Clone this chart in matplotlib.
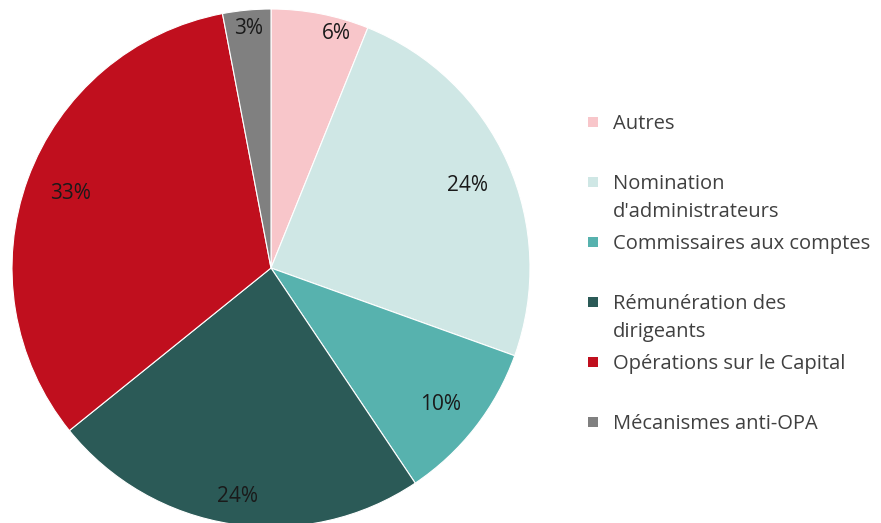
import numpy as np
import matplotlib.pyplot as plt
from matplotlib.patches import Rectangle

categories = ['Autres', "Nomination\nd'administrateurs", 'Commissaires aux comptes',
              'Rémunération des\ndirigeants', 'Opérations sur le Capital', 'Mécanismes anti-OPA']
values = [6.1, 24.4, 10.1, 23.6, 32.8, 3.0]
colors = ['#F8C6CA', '#CFE7E5', '#57B2AE', '#2B5A57', '#C00F1E', '#808080']

# label placement tweaks (radius as fraction, angle offset in degrees)
label_r = [0.94, 0.825, 0.84, 0.89, 0.826, 0.93]
label_da = [-4.6, -1.3, -0.9, 0.4, -0.1, 0.0]

plt.rcParams['font.family'] = ['Open Sans', 'DejaVu Sans']

W, H = 881, 523
fig = plt.figure(figsize=(W / 100, H / 100), dpi=100)
cx, cy, R = 271, 523 - 268, 259
ax = fig.add_axes([(cx - R) / W, (cy - R) / H, 2 * R / W, 2 * R / H])

wedges, _ = ax.pie(values, colors=colors, startangle=90, counterclock=False,
                   wedgeprops=dict(edgecolor='white', linewidth=0.8))
ax.set_aspect('equal')
ax.set_xlim(-1, 1)
ax.set_ylim(-1, 1)

for w, v, r, da in zip(wedges, values, label_r, label_da):
    mid = np.radians((w.theta1 + w.theta2) / 2 + da)
    ax.text(r * np.cos(mid), r * np.sin(mid), f'{v:.0f}%', ha='center', va='center',
            fontsize=15, color='#1a1a1a')

# legend, drawn by hand to mimic the evenly spaced slots
y0, step = 122, 60
for i, (lab, c) in enumerate(zip(categories, colors)):
    y = H - (y0 + step * i)
    fig.patches.append(Rectangle((588 / W, (y - 5) / H), 10 / W, 10 / H,
                                 transform=fig.transFigure, facecolor=c, edgecolor='none'))
    fig.text(613 / W, (y + 8) / H, lab, ha='left', va='top', fontsize=14.5,
             color='#404040', linespacing=1.55)

fig.savefig('out.png', dpi=100)
